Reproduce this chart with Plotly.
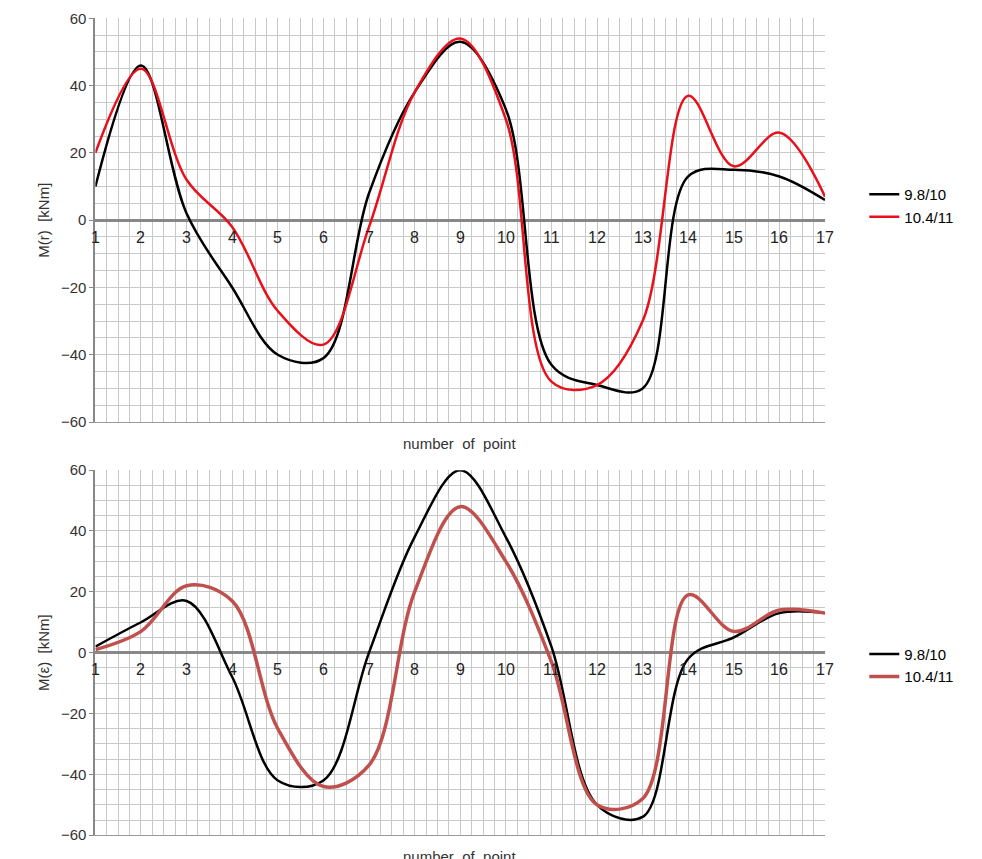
import plotly.graph_objects as go

pts = list(range(1, 18))
top_a = [10, 46, 2, -20, -40, -41, 8, 38, 53, 33, -43, -49, -50, 13, 15, 13, 6]
top_b = [20, 45, 12, -2, -27, -37, -2, 38, 54, 30, -48, -49, -30, 37, 16, 26, 7]
bot_a = [2, 10, 17, -8, -42, -42, 0, 38, 60, 38, 2, -50, -54, -2, 5, 13, 13]
bot_b = [1, 7, 22, 17, -25, -44, -37, 20, 48, 30, -3, -50, -48, 19, 7, 14, 13]

fig = go.Figure()
fig.add_trace(go.Scatter(x=pts, y=top_a, name="9.8/10", mode="lines", line=dict(color="black", width=2.5, shape="spline", smoothing=1), xaxis="x", yaxis="y", legend="legend"))
fig.add_trace(go.Scatter(x=pts, y=top_b, name="10.4/11", mode="lines", line=dict(color="#e8101a", width=2.5, shape="spline", smoothing=1), xaxis="x", yaxis="y", legend="legend"))
fig.add_trace(go.Scatter(x=pts, y=bot_a, name="9.8/10", mode="lines", line=dict(color="black", width=2.5, shape="spline", smoothing=1), xaxis="x2", yaxis="y2", legend="legend2"))
fig.add_trace(go.Scatter(x=pts, y=bot_b, name="10.4/11", mode="lines", line=dict(color="#c0504d", width=3.5, shape="spline", smoothing=1), xaxis="x2", yaxis="y2", legend="legend2"))

ax = dict(range=[1, 17], dtick=0.25, showticklabels=False, showgrid=True, gridcolor="#c8c8c8", gridwidth=1,
          showline=True, linecolor="#999", zeroline=False, ticks="", automargin=False)
ay = dict(range=[-60, 60], tick0=0, dtick=20, showgrid=True, gridcolor="#c8c8c8", zeroline=True,
          minor=dict(dtick=5, showgrid=True, gridcolor="#c8c8c8", ticks=""),
          zerolinecolor="#888", zerolinewidth=3, showline=True, linecolor="#888", linewidth=2, automargin=False,
          tickfont=dict(family="Liberation Sans", size=15, color="#333"), ticks="outside", ticklen=4, tickcolor="#888")
fig.update_layout(
    width=982, height=859, margin=dict(l=0, r=0, t=0, b=0), plot_bgcolor="white", paper_bgcolor="white",
    xaxis=dict(ax, domain=[0.089, 0.832], anchor="y"),
    yaxis=dict(ay, domain=[0.518, 0.988], anchor="x",
               title=dict(text="M(r)  [kNm]", font=dict(family="Liberation Sans", size=15, color="#333"), standoff=8)),
    xaxis2=dict(ax, domain=[0.089, 0.832], anchor="y2"),
    yaxis2=dict(ay, domain=[0.037, 0.462], anchor="x2",
                title=dict(text="M(ε)  [kNm]", font=dict(family="Liberation Sans", size=15, color="#333"), standoff=8)),
    legend=dict(x=0.872, y=0.77, xanchor="left", yanchor="middle", font=dict(family="Liberation Sans", size=15, color="black"), tracegroupgap=8),
    legend2=dict(x=0.872, y=0.235, xanchor="left", yanchor="middle", font=dict(family="Liberation Sans", size=15, color="black"), tracegroupgap=8),
    showlegend=True,
)
for xa, ya in (("x", "y"), ("x2", "y2")):
    for p in pts:
        fig.add_annotation(x=p, y=-2, xref=xa, yref=ya, text=str(p), showarrow=False, yanchor="top",
                           font=dict(family="Liberation Sans", size=16, color="#222"))
fig.add_annotation(x=0.46, y=0.505, xref="paper", yref="paper", text="number  of  point", showarrow=False, yanchor="top",
                   font=dict(family="Liberation Sans", size=15, color="#333"))
fig.add_annotation(x=0.46, y=0.025, xref="paper", yref="paper", text="number  of  point", showarrow=False, yanchor="top",
                   font=dict(family="Liberation Sans", size=15, color="#333"))
fig.write_html("out.html")
